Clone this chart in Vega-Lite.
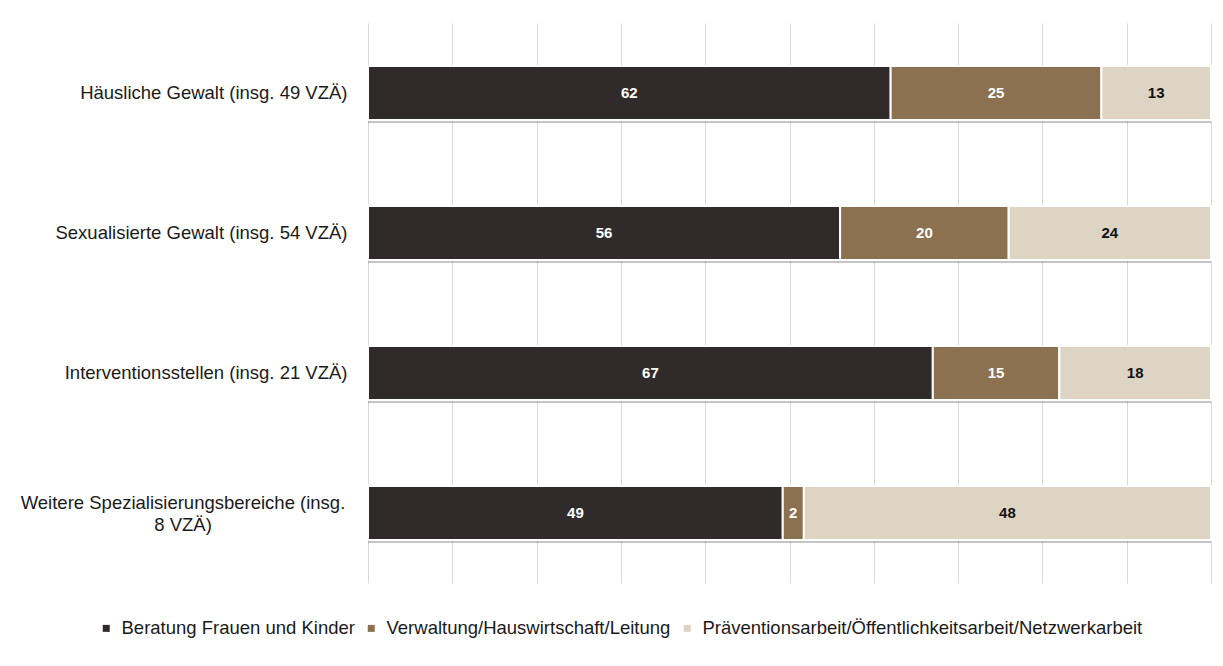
{
  "$schema": "https://vega.github.io/schema/vega-lite/v6.json",
  "autosize": "none",
  "width": 843,
  "height": 560,
  "padding": {"left": 368, "top": 23, "right": 12, "bottom": 83},
  "background": "#ffffff",
  "config": {
    "font": "Liberation Sans",
    "view": {"stroke": null}
  },
  "data": {
    "values": [
      {"bereich": "Häusliche Gewalt (insg. 49 VZÄ)", "kategorie": "Beratung Frauen und Kinder", "o": 1, "wert": 62, "anzeige": "62"},
      {"bereich": "Häusliche Gewalt (insg. 49 VZÄ)", "kategorie": "Verwaltung/Hauswirtschaft/Leitung", "o": 2, "wert": 25, "anzeige": "25"},
      {"bereich": "Häusliche Gewalt (insg. 49 VZÄ)", "kategorie": "Präventionsarbeit/Öffentlichkeitsarbeit/Netzwerkarbeit", "o": 3, "wert": 13, "anzeige": "13"},
      {"bereich": "Sexualisierte Gewalt (insg. 54 VZÄ)", "kategorie": "Beratung Frauen und Kinder", "o": 1, "wert": 56, "anzeige": "56"},
      {"bereich": "Sexualisierte Gewalt (insg. 54 VZÄ)", "kategorie": "Verwaltung/Hauswirtschaft/Leitung", "o": 2, "wert": 20, "anzeige": "20"},
      {"bereich": "Sexualisierte Gewalt (insg. 54 VZÄ)", "kategorie": "Präventionsarbeit/Öffentlichkeitsarbeit/Netzwerkarbeit", "o": 3, "wert": 24, "anzeige": "24"},
      {"bereich": "Interventionsstellen (insg. 21 VZÄ)", "kategorie": "Beratung Frauen und Kinder", "o": 1, "wert": 67, "anzeige": "67"},
      {"bereich": "Interventionsstellen (insg. 21 VZÄ)", "kategorie": "Verwaltung/Hauswirtschaft/Leitung", "o": 2, "wert": 15, "anzeige": "15"},
      {"bereich": "Interventionsstellen (insg. 21 VZÄ)", "kategorie": "Präventionsarbeit/Öffentlichkeitsarbeit/Netzwerkarbeit", "o": 3, "wert": 18, "anzeige": "18"},
      {"bereich": "Weitere Spezialisierungsbereiche (insg. 8 VZÄ)", "kategorie": "Beratung Frauen und Kinder", "o": 1, "wert": 49.2, "anzeige": "49"},
      {"bereich": "Weitere Spezialisierungsbereiche (insg. 8 VZÄ)", "kategorie": "Verwaltung/Hauswirtschaft/Leitung", "o": 2, "wert": 2.5, "anzeige": "2"},
      {"bereich": "Weitere Spezialisierungsbereiche (insg. 8 VZÄ)", "kategorie": "Präventionsarbeit/Öffentlichkeitsarbeit/Netzwerkarbeit", "o": 3, "wert": 48.3, "anzeige": "48"}
    ]
  },
  "encoding": {
    "y": {
      "field": "bereich",
      "type": "nominal",
      "sort": null,
      "title": null,
      "scale": {"paddingInner": 0.614, "paddingOuter": 0.307},
      "axis": {
        "domain": false,
        "ticks": false,
        "labelPadding": 21,
        "labelFontSize": 18.5,
        "labelColor": "#1a1a1a",
        "labelLimit": 400,
        "labelExpr": "indexof(datum.value, 'Weitere') == 0 ? '' : datum.value"
      }
    },
    "x": {
      "field": "wert",
      "type": "quantitative",
      "stack": "zero",
      "title": null,
      "scale": {"domain": [0, 100], "nice": false},
      "axis": {
        "values": [0, 10, 20, 30, 40, 50, 60, 70, 80, 90, 100],
        "labels": false,
        "ticks": false,
        "domain": false,
        "grid": true,
        "gridColor": "#d9d9d9",
        "gridWidth": 1
      }
    },
    "order": {"field": "o"}
  },
  "layer": [
    {
      "mark": {"type": "bar", "yOffset": 3, "color": "#7f7f7f", "opacity": 0.45}
    },
    {
      "mark": {"type": "bar", "stroke": "#ffffff", "strokeWidth": 2},
      "encoding": {
        "color": {
          "field": "kategorie",
          "type": "nominal",
          "sort": ["Beratung Frauen und Kinder", "Verwaltung/Hauswirtschaft/Leitung", "Präventionsarbeit/Öffentlichkeitsarbeit/Netzwerkarbeit"],
          "scale": {
            "domain": ["Beratung Frauen und Kinder", "Verwaltung/Hauswirtschaft/Leitung", "Präventionsarbeit/Öffentlichkeitsarbeit/Netzwerkarbeit"],
            "range": ["#302b2a", "#8b7150", "#ddd4c4"]
          },
          "legend": {
            "title": null,
            "orient": "none",
            "direction": "horizontal",
            "legendX": -271,
            "legendY": 596,
            "symbolType": "square",
            "symbolSize": 49,
            "symbolStrokeWidth": 0,
            "labelFontSize": 18.5,
            "labelColor": "#1a1a1a",
            "labelOffset": 6,
            "columnPadding": 7,
            "labelLimit": 600
          }
        }
      }
    },
    {
      "mark": {"type": "text", "fontWeight": "bold", "fontSize": 15},
      "encoding": {
        "x": {"field": "wert", "type": "quantitative", "stack": "zero", "bandPosition": 0.5},
        "text": {"field": "anzeige", "type": "nominal"},
        "color": {
          "condition": {"test": "datum.o == 3", "value": "#111111"},
          "value": "#ffffff"
        }
      }
    },
    {
      "transform": [
        {"filter": "indexof(datum.bereich, 'Weitere') == 0 && datum.o == 1"}
      ],
      "mark": {"type": "text", "fontSize": 18.5, "align": "center", "baseline": "middle", "dx": -185, "dy": -10, "lineHeight": 22, "color": "#1a1a1a"},
      "encoding": {
        "x": {"datum": 0},
        "text": {"value": ["Weitere Spezialisierungsbereiche (insg.", "8 VZÄ)"]}
      }
    }
  ]
}
